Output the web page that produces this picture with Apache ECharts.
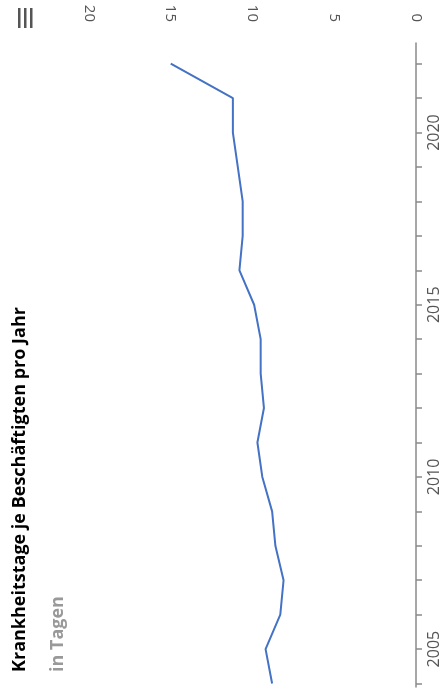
<!DOCTYPE html>
<html>
<head>
<meta charset="utf-8">
<script src="https://cdn.jsdelivr.net/npm/echarts@6/dist/echarts.min.js"></script>
<style>
html,body{margin:0;padding:0;background:#fff;}
#chart{width:446px;height:699px;}
</style>
</head>
<body>
<div id="chart"></div>
<script>
// Data
var years = [2004, 2005, 2006, 2007, 2008, 2009, 2010, 2011, 2012, 2013, 2014, 2015, 2016, 2017, 2018, 2019, 2020, 2021, 2022];
var sickDays = [8.8, 9.2, 8.3, 8.1, 8.6, 8.8, 9.4, 9.7, 9.3, 9.5, 9.5, 9.9, 10.8, 10.6, 10.6, 10.9, 11.2, 11.2, 15.0];
var yearLabels = [2005, 2010, 2015, 2020];
var dayTicks = [0, 5, 10, 15, 20];
var titleText = 'Krankheitstage je Beschäftigten pro Jahr';
var subtitleText = 'in Tagen';

var chart = echarts.init(document.getElementById('chart'));
var seriesData = years.map(function (y, i) { return [sickDays[i], y]; });

chart.setOption({
  animation: false,
  grid: { left: 89, right: 30, top: 43, bottom: 12, containLabel: false, outerBoundsMode: 'none' },
  xAxis: {
    type: 'value',
    position: 'top',
    inverse: true,
    min: dayTicks[0],
    max: dayTicks[dayTicks.length - 1],
    interval: 5,
    axisLine: { show: false },
    axisTick: { show: false },
    splitLine: { show: false },
    axisLabel: {
      rotate: 90,
      margin: 21,
      fontFamily: 'Open Sans',
      fontSize: 15,
      color: '#555',
      formatter: function (v) { return '{v|' + v + '}'; },
      rich: {
        v: { width: 17, align: 'right', fontFamily: 'Open Sans', fontSize: 15, color: '#555' }
      }
    }
  },
  yAxis: {
    type: 'value',
    position: 'right',
    min: 2003.9,
    max: 2022.6,
    axisLine: { show: true, lineStyle: { color: '#8a8a8a', width: 1.5 } },
    axisTick: { show: true, length: 6, lineStyle: { color: '#8a8a8a', width: 1.5 }, customValues: years },
    splitLine: { show: false },
    axisLabel: {
      customValues: yearLabels,
      rotate: 90,
      margin: 10,
      fontFamily: 'Open Sans',
      fontSize: 16,
      color: '#555',
      formatter: function (v) { return String(Math.round(v)); }
    }
  },
  series: [{
    type: 'line',
    data: seriesData,
    showSymbol: false,
    lineStyle: { color: '#4472C4', width: 2 },
    itemStyle: { color: '#4472C4' }
  }],
  graphic: [
    {
      type: 'text', x: 20, y: 672, rotation: Math.PI / 2,
      style: { text: titleText, fontFamily: 'Open Sans', fontWeight: 'bold', fontSize: 18, fill: '#000', textAlign: 'left', textVerticalAlign: 'middle' }
    },
    {
      type: 'text', x: 58, y: 672, rotation: Math.PI / 2,
      style: { text: subtitleText, fontFamily: 'Open Sans', fontWeight: 'bold', fontSize: 18, fill: '#999', textAlign: 'left', textVerticalAlign: 'middle' }
    },
    { type: 'rect', shape: { x: 18, y: 8, width: 2.5, height: 20 }, style: { fill: '#555' } },
    { type: 'rect', shape: { x: 24, y: 8, width: 2.5, height: 20 }, style: { fill: '#555' } },
    { type: 'rect', shape: { x: 30, y: 8, width: 2.5, height: 20 }, style: { fill: '#555' } }
  ]
});
</script>
</body>
</html>
